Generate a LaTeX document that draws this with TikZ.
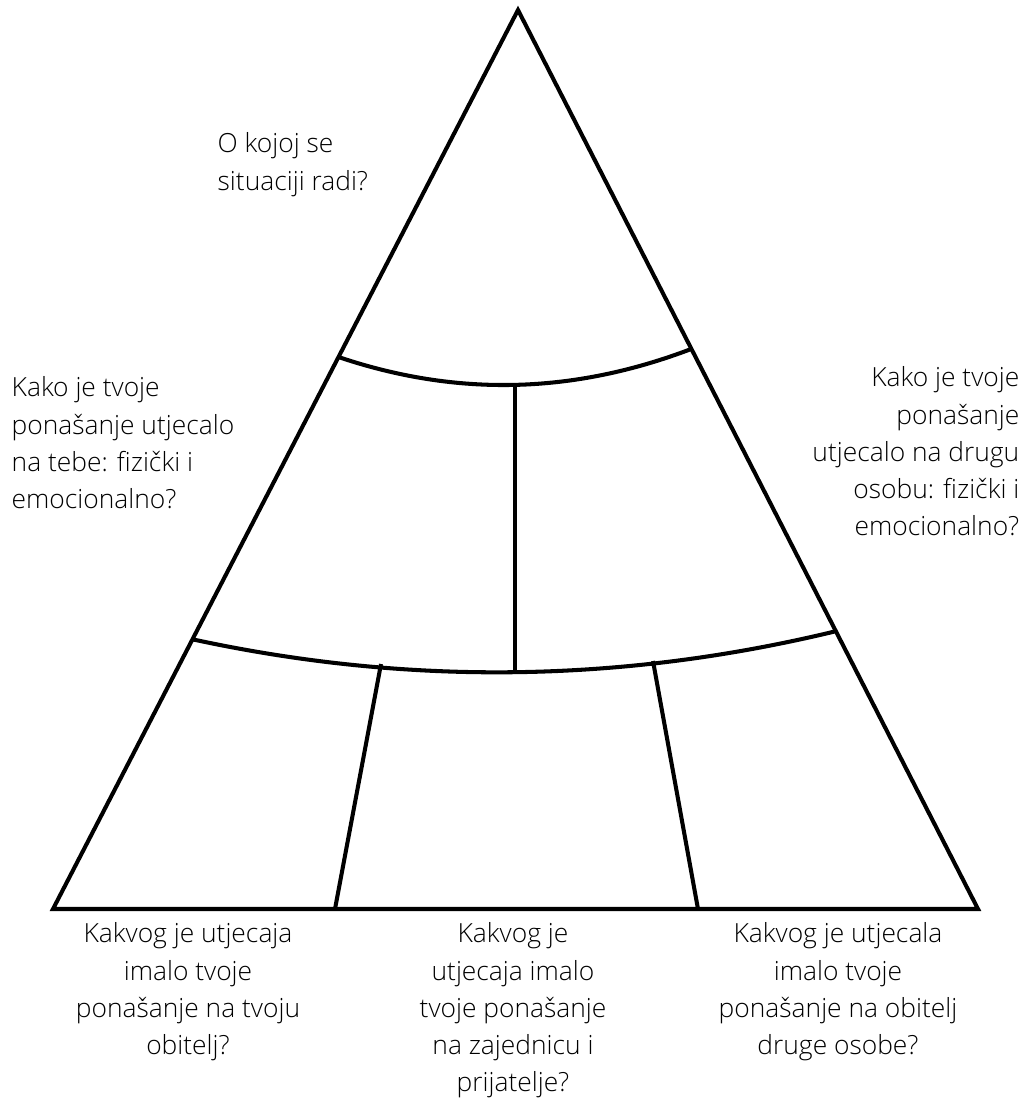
\documentclass[tikz,border=0pt]{standalone}
\usepackage{fontspec}
\setmainfont{Open Sans}[UprightFont=* Light]
\usetikzlibrary{calc}

\tikzset{
	edge/.style={line width=1.15pt,line join=miter},
	question/.style={inner sep=0pt,font=\fontsize{7.5}{10.6}\selectfont}
}

\begin{document}
\begin{tikzpicture}[x=0.01cm,y=-0.01cm]
	\useasboundingbox (0,0) rectangle (1027,1108);
	% corners of the triangle
	\coordinate (apex) at (518,10);
	\coordinate (bl) at (53,909);
	\coordinate (br) at (978,909);
	% points on the sides
	\coordinate (a1l) at ($(apex)!0.386!(bl)$);
	\coordinate (a1r) at ($(apex)!0.377!(br)$);
	\coordinate (a2l) at ($(apex)!0.700!(bl)$);
	\coordinate (a2r) at ($(apex)!0.691!(br)$);
	\coordinate (m1) at (515,385);
	\coordinate (m2) at (515,672);
	\coordinate (s1) at (381,664);
	\coordinate (s2) at (653,661);
	\coordinate (b1) at (335,909);
	\coordinate (b2) at (698,909);

	\draw [edge](apex)--(bl)--(br)--cycle;
	\draw [edge](a1l)..controls(457,397)and(573,394)..(a1r);
	\draw [edge](a2l)..controls(408,686)and(622,683)..(a2r);
	\draw [edge](m1)--(m2);
	\draw [edge](s1)--(b1);
	\draw [edge](s2)--(b2);

	\node [question,anchor=north west,align=left] (top) at (217,132) {O kojoj se\\situaciji radi?};
	\node [question,anchor=north west,align=left] (left) at (11,376) {Kako je tvoje\\ponašanje utjecalo\\na tebe: fizički i\\emocionalno?};
	\node [question,anchor=north east,align=right] (right) at (1020,366) {Kako je tvoje\\ponašanje\\utjecalo na drugu\\osobu: fizički i\\emocionalno?};
	\node [question,anchor=north,align=center] (family) at (188,922) {Kakvog je utjecaja\\imalo tvoje\\ponašanje na tvoju\\obitelj?};
	\node [question,anchor=north,align=center] (community) at (513,922) {Kakvog je\\utjecaja imalo\\tvoje ponašanje\\na zajednicu i\\prijatelje?};
	\node [question,anchor=north,align=center] (other) at (838,922) {Kakvog je utjecala\\imalo tvoje\\ponašanje na obitelj\\druge osobe?};
\end{tikzpicture}
\end{document}
